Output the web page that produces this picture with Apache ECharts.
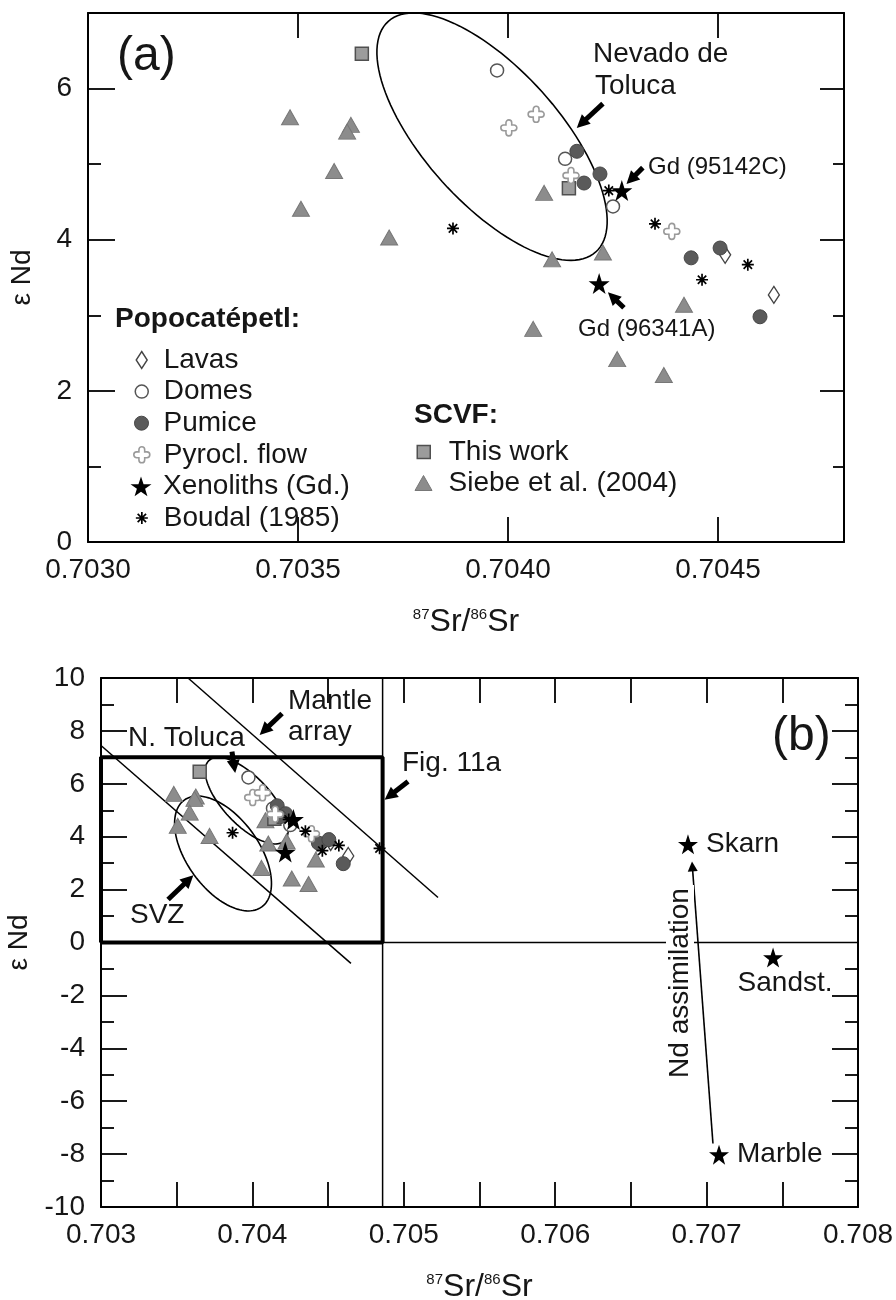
<!DOCTYPE html>
<html><head><meta charset="utf-8">
<script src="https://cdn.jsdelivr.net/npm/echarts@6/dist/echarts.min.js"></script>
<style>html,body{margin:0;padding:0;background:#fff}#c{width:896px;height:1300px}</style>
</head><body><div id="c"></div>
<script>
// ---------------- data ----------------
const lavas     = [[0.704517, 3.80], [0.704633, 3.27]];
const domes     = [[0.703974, 6.24], [0.704136, 5.07], [0.704250, 4.44]];
const pumice    = [[0.704164, 5.17], [0.704219, 4.87], [0.704181, 4.75], [0.704436, 3.76], [0.704505, 3.89], [0.704600, 2.98]];
const pyrocl    = [[0.704002, 5.48], [0.704067, 5.66], [0.704150, 4.85], [0.704390, 4.11]];
const xenoliths = [[0.704271, 4.65], [0.704217, 3.42]];
const boudal    = [[0.703869, 4.15], [0.704350, 4.21], [0.704571, 3.67], [0.704462, 3.47], [0.704240, 4.65], [0.704840, 3.56]];
const thisWork  = [[0.703652, 6.46], [0.704145, 4.68]];
const siebe     = [[0.703481, 5.62], [0.703626, 5.52], [0.703617, 5.43], [0.703586, 4.91], [0.703507, 4.41], [0.703717, 4.03],
                   [0.704086, 4.62], [0.704105, 3.74], [0.704226, 3.83], [0.704419, 3.14], [0.704060, 2.82], [0.704260, 2.42], [0.704371, 2.21]];
const crustalNames  = ['Skarn', 'Sandst.', 'Marble'];
const crustalValues = [[0.706877, 3.71], [0.707439, -0.57], [0.707082, -8.02]];

// reference fields: [cx, cy, ux, uy, vx, vy] (centre + two conjugate half-axes, data units)
const ellipseToluca = [0.703962, 5.364, 0.000247, -1.526, -0.000119, -0.593];
const ellipseSVZ    = [0.703806, 3.365, 0.000256, -2.019, -0.000192, -0.800];
const mantleUpper = [[0.703575, 10], [0.705226, 1.70]];
const mantleLower = [[0.703000, 7.45], [0.704651, -0.79]];
const fig11aBox   = [[0.703, 0], [0.70486, 0], [0.70486, 7], [0.703, 7], [0.703, 0]];
const zeroLine    = [[0.70486, 0], [0.708, 0]];
const fig11aEdge  = [[0.70486, -10], [0.70486, 10]];

// arrows: [tail, head]
const arrowsA = [
  [[0.704226, 5.801], [0.704175, 5.538]],
  [[0.704321, 4.954], [0.704293, 4.797]],
  [[0.704276, 3.099], [0.704249, 3.244]]
];
const arrowsB = [
  [[0.704196, 8.658], [0.704079, 8.019]],
  [[0.703865, 7.221], [0.703880, 6.650]],
  [[0.705028, 6.087], [0.704907, 5.546]],
  [[0.703443, 1.626], [0.703579, 2.374]]
];
const arrowNd = [[[0.707042, -7.60], [0.706906, 2.873]]];

// tick values / labels
const aXLabels = [0.7030, 0.7035, 0.7040, 0.7045];
const aXMarks  = [0.7035, 0.7040, 0.7045];
const aYLabels = [0, 2, 4, 6];
const aYMajor  = [2, 4, 6];
const aYMinor  = [1, 3, 5];
const bXLabels = [0.703, 0.704, 0.705, 0.706, 0.707, 0.708];
const bXMarks  = [0.7035, 0.704, 0.7045, 0.705, 0.7055, 0.706, 0.7065, 0.707, 0.7075];
const bYLabels = [-10, -8, -6, -4, -2, 0, 2, 4, 6, 8, 10];
const bYMajor  = [-8, -6, -4, -2, 2, 4, 6, 8];
const bYMinor  = [-9, -7, -5, -3, -1, 1, 3, 5, 7, 9];

const popoItems = ['Lavas', 'Domes', 'Pumice', 'Pyrocl. flow', 'Xenoliths (Gd.)', 'Boudal (1985)'];
const scvfItems = ['This work', 'Siebe et al. (2004)'];

// ---------------- styles ----------------
const FONT = '"Liberation Sans", Arial, Helvetica, sans-serif';
const TXT = '#161616';
const STAR = 'path://M50 0 L61.8 35.1 L98.1 35.1 L68.8 56.7 L79.4 91 L50 70 L20.6 91 L31.2 56.7 L1.9 35.1 L38.2 35.1 Z';
const CROSS = 'path://M3.2 3.2 L3.2 1.8 A1.8 1.8 0 0 1 6.8 1.8 L6.8 3.2 L8.2 3.2 A1.8 1.8 0 0 1 8.2 6.8 L6.8 6.8 L6.8 8.2 A1.8 1.8 0 0 1 3.2 8.2 L3.2 6.8 L1.8 6.8 A1.8 1.8 0 0 1 1.8 3.2 Z';
const AST = 'path://M5 0 L5 10 M0 5 L10 5 M1.5 1.5 L8.5 8.5 M1.5 8.5 L8.5 1.5';

const STYLE = {
  'Lavas':              {data: lavas,     symbol: 'diamond', symbolSize: [11, 17], itemStyle: {color: '#fff', borderColor: '#444', borderWidth: 1.4, opacity: 1}},
  'Domes':              {data: domes,     symbol: 'circle',  symbolSize: 13, itemStyle: {color: '#fff', borderColor: '#555', borderWidth: 1.5, opacity: 1}},
  'Pumice':             {data: pumice,    symbol: 'circle',  symbolSize: 14, itemStyle: {color: '#5a5a5a', borderColor: '#474747', borderWidth: 1, opacity: 1}},
  'Pyrocl. flow':       {data: pyrocl,    symbol: CROSS,     symbolSize: 16, itemStyle: {color: '#fff', borderColor: '#9a9a9a', borderWidth: 1.6, opacity: 1}},
  'Xenoliths (Gd.)':    {data: xenoliths, symbol: STAR,      symbolSize: 21, itemStyle: {color: '#000', borderColor: '#000', borderWidth: 0, opacity: 1}},
  'Boudal (1985)':      {data: boudal,    symbol: AST,       symbolSize: 12, itemStyle: {color: '#000', borderColor: '#000', borderWidth: 1.7, opacity: 1}},
  'This work':          {data: thisWork,  symbol: 'rect',    symbolSize: 13, itemStyle: {color: '#9c9c9c', borderColor: '#505050', borderWidth: 1.5, opacity: 1}},
  'Siebe et al. (2004)':{data: siebe,     symbol: 'triangle',symbolSize: [17, 15], itemStyle: {color: '#8c8c8c', borderColor: '#777', borderWidth: 1, opacity: 1}}
};
const drawOrder = ['Siebe et al. (2004)', 'This work', 'Lavas', 'Domes', 'Pumice', 'Pyrocl. flow', 'Boudal (1985)', 'Xenoliths (Gd.)'];

// ---------------- layout ----------------
const GA = {left: 88, top: 13, width: 756, height: 529, outerBoundsMode: 'none', containLabel: false};
const GB = {left: 101, top: 678, width: 757, height: 529, outerBoundsMode: 'none', containLabel: false};
const AX = [0.7030, 0.7048], AY = [0, 7];
const BX = [0.703, 0.708], BY = [-10, 10];

function xAxisCfg(grid, range, pos, labels, marks, fmt, showLabel, name) {
  return {
    type: 'value', gridIndex: grid, position: pos, min: range[0], max: range[1],
    axisLine: {show: true, onZero: false, lineStyle: {color: '#000', width: 2}},
    axisTick: {show: true, inside: true, length: 25, customValues: marks, lineStyle: {color: '#000', width: 1.8}},
    axisLabel: {show: showLabel, customValues: labels, formatter: fmt, fontSize: 28, fontFamily: FONT, color: TXT, margin: 14},
    splitLine: {show: false},
    name: name || '', nameLocation: 'middle', nameGap: 63,
    nameTextStyle: {rich: {
      b: {fontSize: 32, fontFamily: FONT, color: TXT, lineHeight: 34},
      s: {fontSize: 15, fontFamily: FONT, color: TXT, lineHeight: 15, verticalAlign: 'top', padding: [2, 0, 0, 0]}
    }}
  };
}
function yAxisCfg(grid, range, pos, labels, marks, len, showLine, showLabel, name, nameGap) {
  return {
    type: 'value', gridIndex: grid, position: pos, min: range[0], max: range[1],
    axisLine: {show: showLine, onZero: false, lineStyle: {color: '#000', width: 2}},
    axisTick: {show: true, inside: true, length: len, customValues: marks, lineStyle: {color: '#000', width: 1.8}},
    axisLabel: {show: showLabel, customValues: labels, fontSize: 28, fontFamily: FONT, color: TXT, margin: 16},
    splitLine: {show: false},
    name: name || '', nameLocation: 'middle', nameRotate: 90, nameGap: nameGap || 50,
    nameTextStyle: {fontSize: 28, fontFamily: FONT, color: TXT}
  };
}
const XNAME = '{s|87}{b|Sr/}{s|86}{b|Sr}';

const xAxes = [
  xAxisCfg(0, AX, 'bottom', aXLabels, aXMarks, v => v.toFixed(4), true, XNAME),
  xAxisCfg(0, AX, 'top', [], aXMarks, null, false),
  Object.assign(xAxisCfg(1, AX, 'bottom', [], [], null, false), {show: false}),
  xAxisCfg(2, BX, 'bottom', bXLabels, bXMarks, v => v.toFixed(3), true, XNAME),
  xAxisCfg(2, BX, 'top', [], bXMarks, null, false),
  Object.assign(xAxisCfg(3, BX, 'bottom', [], [], null, false), {show: false})
];
const yAxes = [
  yAxisCfg(0, AY, 'left', aYLabels, aYMajor, 27, true, true, 'ε Nd', 52),
  yAxisCfg(0, AY, 'right', [], aYMajor, 24, true, false),
  yAxisCfg(1, AY, 'left', [], aYMinor, 13, false, false),
  yAxisCfg(1, AY, 'right', [], aYMinor, 11, false, false),
  yAxisCfg(2, BY, 'left', bYLabels, bYMajor, 26, true, true, 'ε Nd', 65),
  yAxisCfg(2, BY, 'right', [], bYMajor, 26, true, false),
  yAxisCfg(3, BY, 'left', [], bYMinor, 13, false, false),
  yAxisCfg(3, BY, 'right', [], bYMinor, 13, false, false)
];

// ---------------- series ----------------
function ellipseSeries(xi, yi, list) {
  return {
    type: 'custom', xAxisIndex: xi, yAxisIndex: yi, data: list, silent: true, z: 1,
    renderItem: function (params, api) {
      const c = [api.value(0), api.value(1)], u = [api.value(2), api.value(3)], v = [api.value(4), api.value(5)];
      const pts = [];
      for (let k = 0; k <= 120; k++) {
        const t = 2 * Math.PI * k / 120, ct = Math.cos(t), st = Math.sin(t);
        pts.push(api.coord([c[0] + u[0] * ct + v[0] * st, c[1] + u[1] * ct + v[1] * st]));
      }
      return {type: 'polyline', shape: {points: pts}, style: {stroke: '#000', lineWidth: 1.6, fill: null}};
    }
  };
}
function lineSeries(xi, yi, data, width) {
  return {type: 'line', xAxisIndex: xi, yAxisIndex: yi, data: data, showSymbol: false, symbol: 'none',
          lineStyle: {color: '#000', width: width}, silent: true, z: 1, animation: false};
}
function arrowSeries(xi, yi, list, width, head) {
  return {type: 'lines', coordinateSystem: 'cartesian2d', xAxisIndex: xi, yAxisIndex: yi, silent: true, z: 3,
          data: list.map(p => ({coords: p})), symbol: ['none', 'triangle'], symbolSize: head,
          lineStyle: {color: '#000', width: width, opacity: 1, curveness: 0}};
}
function markerSeries(xi, yi) {
  return drawOrder.map(n => ({
    type: 'scatter', name: n, xAxisIndex: xi, yAxisIndex: yi, data: STYLE[n].data,
    symbol: STYLE[n].symbol, symbolSize: STYLE[n].symbolSize, itemStyle: STYLE[n].itemStyle,
    z: 2, clip: true, emphasis: {disabled: true}
  }));
}

const series = [].concat(
  [ellipseSeries(0, 0, [ellipseToluca])],
  markerSeries(0, 0),
  [arrowSeries(0, 0, arrowsA, 5, 13)],
  [lineSeries(3, 4, zeroLine, 1.5), lineSeries(3, 4, fig11aEdge, 1.5), lineSeries(3, 4, mantleUpper, 1.5), lineSeries(3, 4, mantleLower, 1.5),
   lineSeries(3, 4, fig11aBox, 4),
   ellipseSeries(3, 4, [ellipseToluca, ellipseSVZ])],
  markerSeries(3, 4),
  [{
    type: 'scatter', name: 'Crustal', xAxisIndex: 3, yAxisIndex: 4, symbol: STAR, symbolSize: 20,
    itemStyle: {color: '#000', opacity: 1}, z: 4, emphasis: {disabled: true},
    data: crustalNames.map((n, i) => ({name: n, value: crustalValues[i]})),
    label: {show: true, formatter: '{b}', position: 'right', distance: 8, fontSize: 28, fontFamily: FONT, color: TXT, opacity: 1}
  }],
  [arrowSeries(3, 4, arrowsB, 5, 13), arrowSeries(3, 4, arrowNd, 1.6, 10)]
);
// per-point label placement for crustal samples
series.find(s => s.name === 'Crustal').data[1].label = {position: 'bottom', distance: 2, offset: [12, 0]};

// ---------------- legends ----------------
function legendFor(name, cx, cy, textX) {
  const st = STYLE[name];
  const sz = Array.isArray(st.symbolSize) ? st.symbolSize : [st.symbolSize, st.symbolSize];
  return {
    show: true, selectedMode: false, orient: 'vertical', padding: 0,
    left: cx - sz[0] / 2, top: cy - 15, itemWidth: sz[0], itemHeight: sz[1],
    data: [name], itemStyle: st.itemStyle, symbolKeepAspect: true,
    textStyle: {fontSize: 28, fontFamily: FONT, color: TXT, lineHeight: 30,
                padding: [0, 0, 0, Math.max(0, textX - (cx + sz[0] / 2 + 5))]}
  };
}
const legends = popoItems.map((n, i) => legendFor(n, 141, 360 + i * 31.6, 163))
  .concat(scvfItems.map((n, i) => legendFor(n, 423, 452 + i * 31, 448)));

// ---------------- texts ----------------
function txt(x, y, s, size, extra) {
  return Object.assign({type: 'text', x: x, y: y, z: 100,
    style: Object.assign({text: s, fontSize: size, fontFamily: FONT, fill: TXT,
      align: 'left', textAlign: 'left', verticalAlign: 'middle', textVerticalAlign: 'middle'}, (extra && extra.style) || {})},
    extra ? {rotation: extra.rotation || 0} : {});
}
const graphics = [
  txt(117, 57, '(a)', 48),
  txt(593, 54, 'Nevado de', 28),
  txt(595, 86, 'Toluca', 28),
  txt(648, 167, 'Gd (95142C)', 24),
  txt(578, 329, 'Gd (96341A)', 24),
  txt(115, 319, 'Popocatépetl:', 28, {style: {fontWeight: 'bold'}}),
  txt(414, 415, 'SCVF:', 28, {style: {fontWeight: 'bold'}}),
  txt(288, 701, 'Mantle', 28),
  txt(288, 732, 'array', 28),
  txt(128, 738, 'N. Toluca', 28),
  txt(402, 763, 'Fig. 11a', 28),
  txt(772, 737, '(b)', 48),
  txt(130, 915, 'SVZ', 28),
  txt(680, 983, 'Nd assimilation', 28, {rotation: Math.PI / 2,
     style: {align: 'center', textAlign: 'center', backgroundColor: '#fff', padding: [0, 3]}})
];

const chart = echarts.init(document.getElementById('c'), null, {renderer: 'canvas'});
chart.setOption({
  animation: false,
  backgroundColor: '#fff',
  grid: [
    Object.assign({}, GA), Object.assign({}, GA),
    Object.assign({}, GB), Object.assign({}, GB)
  ],
  xAxis: xAxes,
  yAxis: yAxes,
  legend: legends,
  series: series,
  graphic: graphics
});
</script></body></html>
